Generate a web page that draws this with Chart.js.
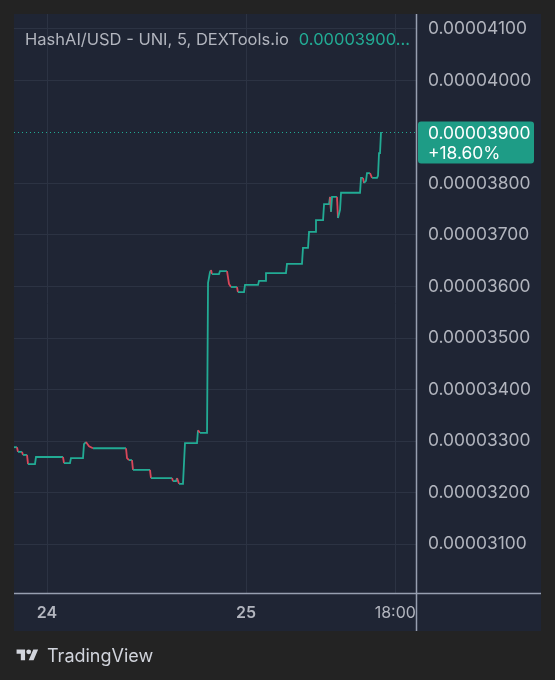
<!DOCTYPE html>
<html>
<head>
<meta charset="utf-8">
<script src="https://cdn.jsdelivr.net/npm/chart.js@4.4.1/dist/chart.umd.min.js"></script>
<style>
  html, body { margin:0; padding:0; background:#232323; }
  #wrap { position:relative; width:555px; height:680px; overflow:hidden; }
  canvas { position:absolute; left:0; top:0; }
  #title { position:absolute; left:25px; top:29px; font-family:Inter, "Noto Sans", sans-serif; font-size:16.5px; color:#b2b5be; white-space:nowrap; }
  #title .v { color:#22ab94; margin-left:10px; }
  #brand { position:absolute; left:14px; top:643px; height:24px; display:flex; align-items:center; font-family:Inter, "Noto Sans", sans-serif; font-size:18px; color:#d1d4dc; }
  #brand svg { margin-right:6px; }
</style>
</head>
<body>
<div id="wrap">
  <canvas id="c" width="555" height="680"></canvas>
  <div id="title">HashAI/USD - UNI, 5, DEXTools.io<span class="v">0.00003900…</span></div>
  <div id="brand"><svg width="27" height="17" viewBox="0 0 36 28"><path fill="#d1d4dc" d="M14 22H7V11H0V4h14v18zM28 22h-8l7.5-18h8L28 22z"/><circle cx="20" cy="8" r="4" fill="#d1d4dc"/></svg>TradingView</div>
</div>
<script>
// ---- data (hours since 24th 00:00, price in USD) ----
const hours = [-3.98,-3.62,-3.50,-3.02,-2.89,-2.41,-2.29,-1.45,-1.33,1.93,2.05,2.77,2.89,4.34,4.46,4.70,5.07,5.55,9.53,9.65,9.89,10.25,10.37,12.42,12.54,15.08,15.20,15.56,15.68,15.92,16.40,16.64,18.09,18.21,18.45,19.30,19.42,19.66,19.78,19.90,20.74,20.86,21.71,21.95,22.19,22.91,23.03,23.76,23.88,25.45,25.57,26.29,26.41,28.82,28.94,30.75,30.87,31.48,31.60,32.32,32.44,33.29,33.41,34.01,34.13,34.25,34.37,34.97,35.09,35.34,35.46,37.75,37.87,38.11,38.23,38.47,38.59,38.95,39.20,39.80,39.92,40.04,40.16,40.28];
const prices = [0.00003288,0.00003288,0.00003279,0.00003279,0.00003273,0.00003273,0.00003255,0.00003255,0.00003269,0.00003269,0.00003257,0.00003257,0.00003267,0.00003267,0.00003294,0.00003298,0.00003290,0.00003286,0.00003286,0.00003267,0.00003263,0.00003263,0.00003244,0.00003244,0.00003228,0.00003228,0.00003222,0.00003222,0.00003228,0.00003217,0.00003217,0.00003296,0.00003296,0.00003321,0.00003316,0.00003316,0.00003607,0.00003628,0.00003632,0.00003624,0.00003624,0.00003630,0.00003630,0.00003605,0.00003599,0.00003599,0.00003589,0.00003589,0.00003603,0.00003603,0.00003611,0.00003611,0.00003626,0.00003626,0.00003644,0.00003644,0.00003675,0.00003675,0.00003706,0.00003706,0.00003729,0.00003729,0.00003760,0.00003760,0.00003774,0.00003745,0.00003774,0.00003774,0.00003733,0.00003749,0.00003782,0.00003782,0.00003811,0.00003811,0.00003801,0.00003805,0.00003820,0.00003820,0.00003811,0.00003811,0.00003815,0.00003859,0.00003859,0.00003900];
const xTickValues = [0, 24, 42];
const xTickLabels = ['24', '25', '18:00'];
const yTickValues = [0.000031,0.000032,0.000033,0.000034,0.000035,0.000036,0.000037,0.000038,0.000039,0.000040,0.000041];
const lastPrice = 0.00003900;
const changeLabel = '+18.60%';

const UP = '#22ab94', DOWN = '#d9475a', GRID = '#2c3343', AXIS = '#979fb0', TXT = '#b2b5be';
const FONT = 'Inter, "Noto Sans", sans-serif';

const deco = {
  id: 'deco',
  beforeDraw(chart) {
    const c = chart.ctx;
    c.save();
    c.fillStyle = '#232323';
    c.fillRect(0, 0, chart.width, chart.height);
    c.fillStyle = '#1f2534';
    c.fillRect(14, 14, 527, 617);
    c.restore();
  },
  afterDraw(chart) {
    const c = chart.ctx, a = chart.chartArea, ys = chart.scales.y;
    const py = Math.round(ys.getPixelForValue(lastPrice)) + 0.5;
    c.save();
    // dotted last-price line
    c.strokeStyle = UP; c.lineWidth = 1; c.setLineDash([1, 3]);
    c.beginPath(); c.moveTo(a.left, py); c.lineTo(a.right, py); c.stroke();
    c.setLineDash([]);
    // axis borders
    c.strokeStyle = AXIS; c.lineWidth = 1.5;
    c.beginPath(); c.moveTo(a.right + 0.5, 14); c.lineTo(a.right + 0.5, 631); c.stroke();
    c.beginPath(); c.moveTo(14, a.bottom + 0.5); c.lineTo(541, a.bottom + 0.5); c.stroke();
    // price box
    const bx = a.right + 2, bw = 116, bt = py - 11, bh = 42;
    c.fillStyle = '#1e9c86';
    c.beginPath();
    if (c.roundRect) c.roundRect(bx, bt, bw, bh, 3); else c.rect(bx, bt, bw, bh);
    c.fill();
    c.fillStyle = '#ffffff';
    c.font = '17.4px ' + FONT;
    c.textBaseline = 'middle'; c.textAlign = 'left';
    c.fillText(lastPrice.toFixed(8), a.right + 12, py + 1);
    c.fillText(changeLabel, a.right + 12, py + 21);
    c.restore();
  }
};

new Chart(document.getElementById('c'), {
  type: 'line',
  data: {
    datasets: [{
      data: hours.map((h, i) => ({ x: h, y: prices[i] })),
      borderWidth: 1.8,
      borderColor: UP,
      pointRadius: 0,
      tension: 0,
      segment: {
        borderColor: ctx => ctx.p1.parsed.y < ctx.p0.parsed.y ? DOWN : UP
      }
    }]
  },
  options: {
    responsive: false,
    animation: false,
    devicePixelRatio: 1,
    layout: { padding: { left: 14, top: 14, right: 14, bottom: 49 } },
    plugins: { legend: { display: false }, tooltip: { enabled: false } },
    scales: {
      x: {
        type: 'linear',
        min: -3.98, max: 44.5,
        afterBuildTicks: s => { s.ticks = xTickValues.map(v => ({ value: v })); },
        afterFit: s => { s.height = 38; s.paddingLeft = 0; s.paddingRight = 0; },
        grid: { color: GRID, drawTicks: false, lineWidth: 1 },
        border: { display: false },
        ticks: {
          padding: 11,
          color: TXT,
          maxRotation: 0,
          autoSkip: false,
          font: ctx => ({ family: FONT, size: 16, weight: ctx.index < 2 ? '600' : '400' }),
          callback: (v, i) => xTickLabels[i]
        }
      },
      y: {
        position: 'right',
        min: 0.00003005, max: 0.00004129,
        afterBuildTicks: s => { s.ticks = yTickValues.map(v => ({ value: v })); },
        afterFit: s => { s.width = 125; s.paddingTop = 0; s.paddingBottom = 0; },
        grid: {
          drawTicks: false,
          color: ctx => (ctx.tick && Math.abs(ctx.tick.value - lastPrice) < 1e-9) ? 'rgba(0,0,0,0)' : GRID
        },
        border: { display: false },
        ticks: {
          padding: 12,
          color: TXT,
          autoSkip: false,
          font: { family: FONT, size: 17.4 },
          callback: v => Math.abs(v - lastPrice) < 1e-9 ? '' : v.toFixed(8)
        }
      }
    }
  },
  plugins: [deco]
});
</script>
</body>
</html>
